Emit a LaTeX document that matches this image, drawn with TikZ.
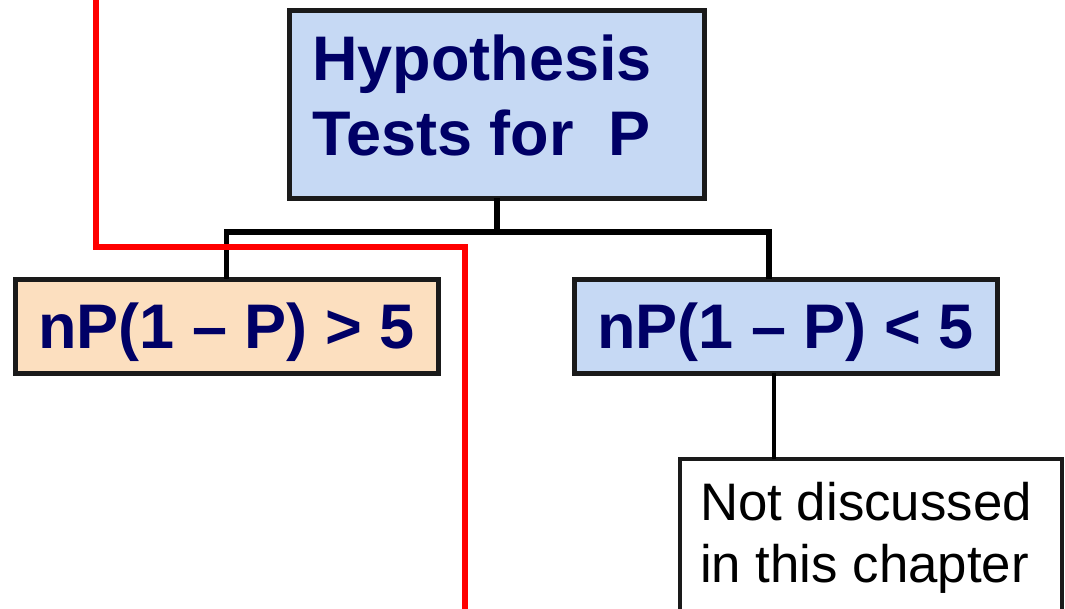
\documentclass[tikz,border=0pt]{standalone}
\usepackage{fontspec}
\setmainfont{Liberation Sans}
\definecolor{navy}{HTML}{000066}
\definecolor{boxblue}{HTML}{C6D9F4}
\definecolor{boxpeach}{HTML}{FCDFBF}
\definecolor{edge}{HTML}{1A1A1A}
\begin{document}
\begin{tikzpicture}[x=1pt,y=-1pt,
  box/.style={draw=edge, line width=5pt, inner sep=0pt, outer sep=0pt, rectangle},
  cond/.style={box, minimum width=423pt, minimum height=94pt,
    font=\fontsize{63}{75}\selectfont\bfseries, text=navy, text height=45pt, text depth=0pt},
  ttl/.style={font=\fontsize{63}{75}\selectfont\bfseries, text=navy, inner sep=0pt, anchor=base west},
  note/.style={font=\fontsize{52.8}{62}\selectfont, text=black, inner sep=0pt, anchor=base west},
  conn/.style={draw=black, line width=5.5pt},
  thinconn/.style={draw=black, line width=4pt},
  redline/.style={draw=red, line width=5.5pt}]
\useasboundingbox (0,0) rectangle (1065,608);

% main box
\node[box, fill=boxblue, minimum width=414.5pt, minimum height=187.5pt] (top) at (496.75,104.25) {};
\node[ttl] (t1) at (312,80) {Hypothesis};
\node[ttl] (t2) at (312,155) {Tests for~~P};

% the two conditions
\node[cond, fill=boxpeach] (left) at (226.5,326) {nP(1 – P) > 5};
\node[cond, fill=boxblue] (right) at (785.5,326) {nP(1 – P) < 5};

% side note, running past the lower edge
\node[box, line width=4pt, fill=white, minimum width=381.5pt, minimum height=200pt] (nd) at (870.75,559) {};
\node[note] (n1) at (700,520) {Not discussed};
\node[note] (n2) at (700,582) {in this chapter};

% tree connectors
\coordinate (j) at (top.south |- 0,232);
\coordinate (rj) at (769,232);
\draw[conn] (top.south) -- (j);
\draw[conn] (j) -| (left.north);
\draw[conn] (j) -- (rj) -- (rj |- right.north);
\coordinate (k) at (774,0 |- right.south);
\draw[thinconn] (k) -- (k |- nd.north);

% red path
\coordinate (r0) at (96,-5);
\coordinate (r1) at (96,247);
\coordinate (r2) at (465,247);
\coordinate (r3) at (465,615);
\draw[redline] (r0) -- (r1) -- (r2) -- (r3);
\end{tikzpicture}
\end{document}
